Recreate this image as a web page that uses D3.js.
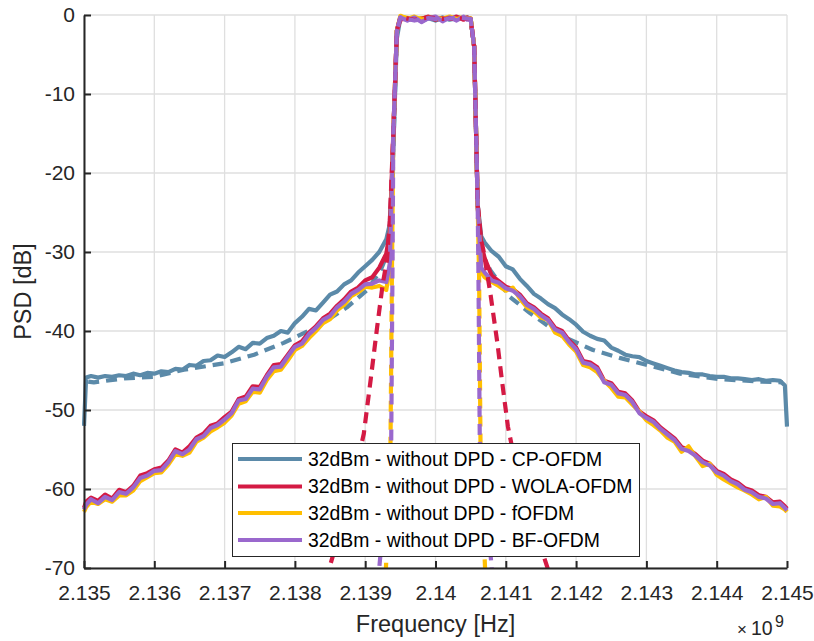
<!DOCTYPE html>
<html>
<head>
<meta charset="utf-8">
<script src="https://cdn.jsdelivr.net/npm/d3@7"></script>
<style>
  body { margin: 0; background: #fff; }
  svg { font-family: "Liberation Sans", Arial, sans-serif; }
</style>
</head>
<body>
<script>
const width = 814;
const height = 641;
const plotLeft = 84, plotRight = 787, plotTop = 15, plotBottom = 568;

// tick values and labels
const xTicks = [2.135, 2.136, 2.137, 2.138, 2.139, 2.14, 2.141, 2.142, 2.143, 2.144, 2.145];
const xTickLabels = ["2.135", "2.136", "2.137", "2.138", "2.139", "2.14", "2.141", "2.142", "2.143", "2.144", "2.145"];
const yTicks = [-70, -60, -50, -40, -30, -20, -10, 0];
const yTickLabels = ["-70", "-60", "-50", "-40", "-30", "-20", "-10", "0"];

// legend entries
const seriesNames = [
  "32dBm - without DPD - CP-OFDM",
  "32dBm - without DPD - WOLA-OFDM",
  "32dBm - without DPD - fOFDM",
  "32dBm - without DPD - BF-OFDM"
];
const seriesColors = ["#5b8aa9", "#d41a44", "#ffbf00", "#9a68cd"];

// frequency grid (x1e9 Hz) for the solid curves
const freqSolid = [
  2.1350, 2.13503, 2.1351, 2.1352, 2.1353, 2.1354, 2.1355, 2.1356, 2.1357, 2.1358, 2.1359,
  2.1360, 2.1361, 2.1362, 2.1363, 2.1364, 2.1365, 2.1366, 2.1367, 2.1368, 2.1369,
  2.1370, 2.1371, 2.1372, 2.1373, 2.1374, 2.1375, 2.1376, 2.1377, 2.1378, 2.1379,
  2.1380, 2.1381, 2.1382, 2.1383, 2.1384, 2.1385, 2.1386, 2.1387, 2.1388, 2.1389,
  2.1390, 2.1391, 2.1392, 2.1393, 2.13935, 2.13940, 2.13945, 2.13950,
  2.1396, 2.1397, 2.1398, 2.1399, 2.1400, 2.1401, 2.1402, 2.1403, 2.1404, 2.14045,
  2.14050, 2.14055, 2.14060, 2.14065,
  2.1407, 2.1408, 2.1409, 2.1410, 2.1411, 2.1412, 2.1413, 2.1414, 2.1415, 2.1416,
  2.1417, 2.1418, 2.1419, 2.1420, 2.1421, 2.1422, 2.1423, 2.1424, 2.1425, 2.1426,
  2.1427, 2.1428, 2.1429, 2.1430, 2.1431, 2.1432, 2.1433, 2.1434, 2.1435, 2.1436,
  2.1437, 2.1438, 2.1439, 2.1440, 2.1441, 2.1442, 2.1443, 2.1444, 2.1445, 2.1446,
  2.1447, 2.1448, 2.1449, 2.14497, 2.1450
];

// PSD [dB], without DPD
const psdCp = [
  -52.0, -45.9, -45.7, -45.9, -45.7, -45.8, -45.6, -45.7, -45.4, -45.6, -45.3,
  -45.4, -45.1, -45.2, -44.8, -44.9, -44.3, -44.4, -43.8, -43.7, -43.1,
  -43.3, -42.7, -42.0, -42.3, -41.5, -41.6, -40.9, -40.6, -40.0, -40.2,
  -39.0, -38.2, -37.2, -37.4, -36.4, -35.4, -35.0, -34.1, -33.6, -32.6,
  -31.8, -31.0, -30.0, -28.4, -26.5, -17.0, -3.0, -0.4,
  -0.6, -0.3, -0.8, -0.4, -0.7, -0.3, -0.6, -0.4, -0.5, -0.3,
  -0.5, -4.0, -24.0, -28.0,
  -28.8, -29.9, -30.6, -31.8, -32.2, -33.4, -34.3, -35.3, -35.9, -36.6,
  -37.1, -37.9, -38.5, -39.2, -40.1, -40.6, -41.0, -41.2, -42.1, -42.5,
  -43.0, -43.2, -43.3, -43.8, -44.1, -44.4, -44.7, -45.0, -45.2, -45.3,
  -45.5, -45.5, -45.7, -45.8, -45.8, -46.0, -46.0, -46.1, -46.2, -46.1,
  -46.3, -46.2, -46.3, -46.9, -52.1
];
const psdWola = [
  -62.4, -61.6, -61.1, -61.5, -60.7, -61.2, -60.1, -60.4, -59.6, -58.3, -58.0,
  -57.5, -57.3, -56.4, -55.0, -55.4, -54.6, -53.5, -53.0, -52.0, -51.7,
  -50.9, -50.2, -48.6, -48.3, -47.0, -47.1, -45.6, -44.3, -44.2, -43.0,
  -41.8, -41.3, -40.2, -39.4, -38.4, -37.8, -36.8, -36.0, -35.0, -34.5,
  -33.6, -33.2, -32.0, -30.2, -27.5, -15.0, -2.0, -0.6,
  -0.4, -0.6, -0.5, -0.2, -0.6, -0.4, -0.5, -0.2, -0.6, -0.3,
  -0.5, -4.0, -24.0, -29.0,
  -30.8, -33.0, -33.7, -34.4, -34.7, -35.4, -36.5, -37.0, -37.8, -38.4,
  -39.6, -40.0, -41.2, -42.1, -43.8, -44.0, -44.6, -46.3, -46.6, -47.7,
  -47.9, -48.8, -50.2, -50.8, -51.3, -52.2, -52.9, -53.6, -54.7, -55.0,
  -55.6, -56.4, -56.8, -57.7, -58.1, -58.8, -59.2, -59.9, -60.2, -60.8,
  -61.0, -61.7, -61.6, -62.2, -62.5
];
const psdFofdm = [
  -62.9, -62.3, -61.6, -61.9, -61.3, -61.6, -60.8, -60.8, -60.2, -59.0, -58.5,
  -58.0, -57.9, -56.9, -55.6, -55.8, -55.4, -54.0, -53.5, -52.7, -52.2,
  -51.6, -50.7, -49.2, -48.9, -47.7, -47.8, -46.2, -45.1, -44.9, -43.7,
  -42.4, -41.9, -40.9, -40.0, -39.0, -38.5, -37.4, -36.7, -35.6, -35.1,
  -34.4, -34.5, -34.3, -34.8, -32.0, -15.0, -2.0, -0.1,
  -0.5, -0.2, -0.6, -0.3, -0.4, -0.5, -0.2, -0.5, -0.3, -0.4,
  -0.4, -4.0, -24.0, -32.5,
  -33.2, -33.8, -34.3, -34.9, -34.5, -35.9, -37.0, -37.5, -38.3, -38.6,
  -40.2, -40.6, -41.7, -42.6, -44.3, -44.6, -45.2, -46.3, -47.2, -48.3,
  -48.4, -49.3, -50.2, -51.3, -51.9, -52.6, -53.5, -54.0, -55.3, -54.6,
  -55.9, -57.1, -56.8, -58.2, -58.8, -59.3, -59.8, -60.2, -60.7, -61.3,
  -61.0, -62.1, -62.2, -62.6, -62.9
];
const psdBf = [
  -62.6, -62.0, -61.3, -61.8, -61.0, -61.4, -60.4, -60.6, -59.8, -58.6, -58.3,
  -57.7, -57.6, -56.6, -55.2, -55.6, -55.0, -53.7, -53.3, -52.3, -51.9,
  -51.2, -50.4, -48.8, -48.6, -47.3, -47.4, -45.8, -44.6, -44.5, -43.2,
  -42.0, -41.6, -40.4, -39.6, -38.6, -38.1, -37.0, -36.3, -35.3, -34.8,
  -34.1, -34.0, -33.6, -33.8, -31.5, -15.0, -2.0, -0.3,
  -0.7, -0.3, -0.9, -0.4, -0.2, -0.8, -0.3, -0.7, -0.2, -0.6,
  -0.5, -4.0, -24.0, -32.0,
  -32.6, -33.6, -33.9, -34.6, -34.9, -35.6, -36.7, -37.2, -38.0, -38.6,
  -39.8, -40.2, -41.4, -42.3, -44.0, -44.2, -44.8, -46.5, -46.8, -47.9,
  -48.1, -49.0, -50.4, -51.0, -51.5, -52.4, -53.1, -53.8, -54.9, -55.2,
  -55.8, -56.6, -57.0, -57.9, -58.3, -59.0, -59.4, -60.1, -60.4, -61.0,
  -61.2, -61.9, -61.8, -62.4, -62.7
];

// dashed curves (not in legend)
const freqCpDash = [2.13506, 2.13514, 2.13557, 2.13600, 2.13642, 2.13699, 2.13742, 2.13784, 2.13831, 2.13874,
  2.13903, 2.13922, 2.13934, 2.13940, 2.13945, 2.13950, 2.1397, 2.1399, 2.1401, 2.1403,
  2.14050, 2.14055, 2.14060, 2.14065, 2.14078, 2.14106, 2.14134, 2.14181, 2.14224, 2.14262,
  2.14301, 2.14348, 2.14405, 2.14462, 2.14494];
const psdCpDash = [-46.4, -46.5, -46.0, -45.8, -44.9, -44.1, -43.0, -41.5, -39.5, -37.0,
  -34.8, -32.3, -29.7, -17.0, -2.0, -0.4, -0.5, -0.4, -0.6, -0.4,
  -0.5, -4.0, -24.0, -30.0, -32.3, -35.7, -37.7, -40.7, -42.4, -43.4,
  -44.3, -45.4, -46.1, -46.4, -46.5];

const freqWolaDash = [2.13833, 2.13851, 2.13878, 2.13898, 2.13908, 2.13917, 2.13925, 2.13931, 2.13935, 2.13940,
  2.13945, 2.13950, 2.1397, 2.1399, 2.1401, 2.1403, 2.14050, 2.14055, 2.14060, 2.14065,
  2.14068, 2.14078, 2.14088, 2.14095, 2.14103, 2.14113, 2.14134, 2.14159, 2.14170];
const psdWolaDash = [-76, -69.4, -61, -53, -46, -39.5, -34, -31, -26, -15,
  -2, -0.3, -0.6, -0.3, -0.5, -0.4, -0.5, -4, -24, -28.5,
  -29.7, -35.2, -41.5, -46.6, -52.1, -56.5, -63, -69.9, -73];

const freqFofdmDash = [2.13928, 2.13930, 2.13936, 2.13938, 2.13940, 2.13945, 2.13950, 2.1397, 2.1399,
  2.1401, 2.1403, 2.14050, 2.14055, 2.14060, 2.14062, 2.14064, 2.14070, 2.14072];
const psdFofdmDash = [-73, -69, -54, -33, -15, -2, -0.2, -0.5, -0.3,
  -0.4, -0.3, -0.4, -4, -24, -33, -54, -69, -73];

const freqBfDash = [2.13918, 2.13921, 2.13937, 2.13939, 2.13940, 2.13945, 2.13950, 2.1397, 2.1399,
  2.1401, 2.1403, 2.14050, 2.14055, 2.14060, 2.14061, 2.14063, 2.14079, 2.14082];
const psdBfDash = [-72, -69, -54, -30, -15, -2, -0.3, -0.7, -0.4,
  -0.6, -0.3, -0.5, -4, -24, -32, -54, -69, -72];

const textColor = "#262626";

const svg = d3.select("body").append("svg")
  .attr("width", width)
  .attr("height", height);

const x = d3.scaleLinear().domain([2.135, 2.145]).range([plotLeft, plotRight]);
const y = d3.scaleLinear().domain([-70, 0]).range([plotBottom, plotTop]);

// grid
svg.append("g").selectAll("line").data(xTicks).join("line")
  .attr("x1", d => x(d)).attr("x2", d => x(d))
  .attr("y1", plotTop).attr("y2", plotBottom)
  .attr("stroke", "#dfdfdf").attr("stroke-width", 1.3);
svg.append("g").selectAll("line").data(yTicks).join("line")
  .attr("x1", plotLeft).attr("x2", plotRight)
  .attr("y1", d => y(d)).attr("y2", d => y(d))
  .attr("stroke", "#dfdfdf").attr("stroke-width", 1.3);

// clip for the data lines
svg.append("clipPath").attr("id", "plot-clip")
  .append("rect")
  .attr("x", plotLeft - 2).attr("y", plotTop - 3)
  .attr("width", plotRight - plotLeft + 4).attr("height", plotBottom - plotTop + 4);

const line = d3.line().x(d => x(d[0])).y(d => y(d[1]));
const zip = (fs, vs) => fs.map((f, i) => [f, vs[i]]);

// draw order picked so the purple/red dashes sit on top like the original
const curves = [
  {data: zip(freqCpDash, psdCpDash), color: seriesColors[0], dash: "11,7"},
  {data: zip(freqFofdmDash, psdFofdmDash), color: seriesColors[2], dash: "11,7"},
  {data: zip(freqSolid, psdCp), color: seriesColors[0], dash: null},
  {data: zip(freqSolid, psdWola), color: seriesColors[1], dash: null},
  {data: zip(freqSolid, psdFofdm), color: seriesColors[2], dash: null},
  {data: zip(freqSolid, psdBf), color: seriesColors[3], dash: null},
  {data: zip(freqWolaDash, psdWolaDash), color: seriesColors[1], dash: "11,7"},
  {data: zip(freqBfDash, psdBfDash), color: seriesColors[3], dash: "11,7"}
];

svg.append("g").attr("clip-path", "url(#plot-clip)")
  .selectAll("path").data(curves).join("path")
  .attr("d", d => line(d.data))
  .attr("fill", "none")
  .attr("stroke", d => d.color)
  .attr("stroke-width", 4.2)
  .attr("stroke-linejoin", "round")
  .attr("stroke-dasharray", d => d.dash);

// axes
const xAxis = svg.append("g")
  .attr("transform", "translate(0," + plotBottom + ")")
  .call(d3.axisBottom(x).tickValues(xTicks).tickFormat((d, i) => xTickLabels[i])
    .tickSize(-7).tickSizeOuter(0).tickPadding(17));
const yAxis = svg.append("g")
  .attr("transform", "translate(" + plotLeft + ",0)")
  .call(d3.axisLeft(y).tickValues(yTicks).tickFormat((d, i) => yTickLabels[i])
    .tickSize(-7).tickSizeOuter(0).tickPadding(9));

[xAxis, yAxis].forEach(g => {
  g.attr("font-size", 21).attr("font-family", "'Liberation Sans', Arial, sans-serif");
  g.selectAll("text").attr("fill", textColor);
  g.selectAll("line").attr("stroke", textColor).attr("stroke-width", 2);
  g.select(".domain").attr("stroke", textColor).attr("stroke-width", 2);
});

// axis labels
svg.append("text")
  .attr("x", (plotLeft + plotRight) / 2).attr("y", 632)
  .attr("text-anchor", "middle")
  .attr("font-size", 23.5).attr("fill", textColor)
  .text("Frequency [Hz]");

svg.append("text")
  .attr("transform", "translate(31," + ((plotTop + plotBottom) / 2) + ") rotate(-90)")
  .attr("text-anchor", "middle")
  .attr("font-size", 23.5).attr("fill", textColor)
  .text("PSD [dB]");

// exponent label
svg.append("text")
  .attr("x", 737).attr("y", 635)
  .attr("font-size", 17).attr("fill", textColor)
  .text("\u00d7");
svg.append("text")
  .attr("x", 751).attr("y", 635)
  .attr("font-size", 19.5).attr("fill", textColor)
  .text("10");
svg.append("text")
  .attr("x", 775).attr("y", 627)
  .attr("font-size", 16).attr("fill", textColor)
  .text("9");

// legend
const legend = svg.append("g");
legend.append("rect")
  .attr("x", 232.5).attr("y", 443.5)
  .attr("width", 407).attr("height", 113)
  .attr("fill", "#fff").attr("stroke", "#262626").attr("stroke-width", 1);
const legendY = [459, 486.5, 513, 540];
const items = legend.selectAll("g.item").data(seriesNames).join("g").attr("class", "item");
items.append("line")
  .attr("x1", 238).attr("x2", 302)
  .attr("y1", (d, i) => legendY[i]).attr("y2", (d, i) => legendY[i])
  .attr("stroke", (d, i) => seriesColors[i]).attr("stroke-width", 4);
items.append("text")
  .attr("x", 308).attr("y", (d, i) => legendY[i])
  .attr("dy", "0.36em")
  .attr("font-size", 19.4).attr("fill", "#000")
  .text(d => d);
</script>
</body>
</html>
